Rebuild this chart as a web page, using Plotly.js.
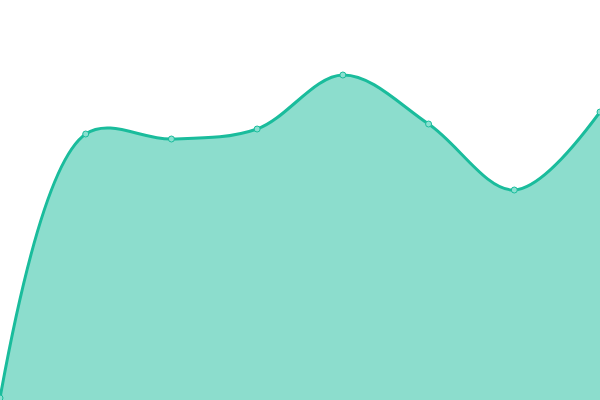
<!DOCTYPE html>
<html><head><meta charset="utf-8">
<script src="https://cdn.plot.ly/plotly-3.0.1.min.js"></script>
<style>html,body{margin:0;padding:0;background:#fff}#c{width:600px;height:400px}</style>
</head><body><div id="c"></div>
<script>
const xs = [0, 1, 2, 3, 4, 5, 6, 7];
const values = [2, 266, 261, 271, 325, 276, 210, 288];
Plotly.newPlot('c', [{
  x: xs, y: values, type: 'scatter', mode: 'lines+markers',
  fill: 'tozeroy', fillcolor: 'rgba(26,188,156,0.5)',
  line: {color: '#1abc9c', width: 3, shape: 'spline', smoothing: 1},
  marker: {size: 6, color: '#8ae0d0', line: {color: '#1abc9c', width: 1}},
  cliponaxis: false
}], {
  width: 600, height: 400,
  margin: {l: 0, r: 0, t: 0, b: 0},
  paper_bgcolor: '#fff', plot_bgcolor: '#fff',
  showlegend: false,
  xaxis: {range: [0, 7], visible: false, fixedrange: true},
  yaxis: {range: [0, 400], visible: false, fixedrange: true}
}, {displayModeBar: false, staticPlot: true});
</script></body></html>
